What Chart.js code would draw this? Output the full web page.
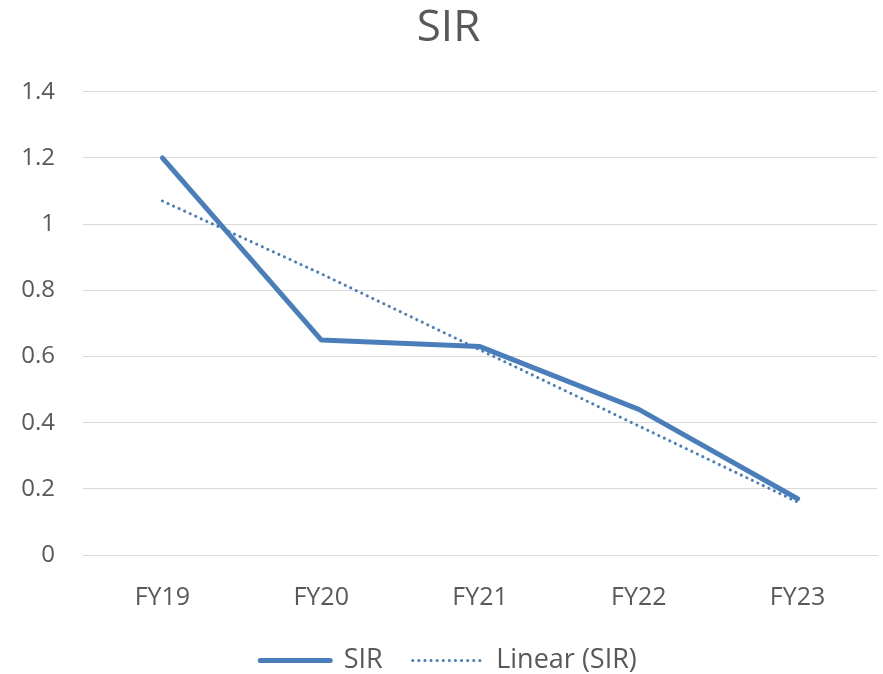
<!DOCTYPE html>
<html>
<head>
<meta charset="utf-8">
<script src="https://cdn.jsdelivr.net/npm/chart.js@4"></script>
<style>
  body { margin: 0; background: #fff; }
  #wrap { width: 883px; height: 674px; }
</style>
</head>
<body>
<div id="wrap"><canvas id="sirChart"></canvas></div>
<script>
const categories = ['FY19', 'FY20', 'FY21', 'FY22', 'FY23'];
const sirValues = [1.2, 0.65, 0.63, 0.44, 0.17];
// trendline
const linearValues = [1.07, 0.85, 0.62, 0.39, 0.16];
const yTicks = [0, 0.2, 0.4, 0.6, 0.8, 1, 1.2, 1.4];

const blue = '#4a7ebb';
const grey = '#595959';
const font = "'Open Sans', Lato, sans-serif";

const ctx = document.getElementById('sirChart').getContext('2d');
new Chart(ctx, {
  type: 'line',
  data: {
    labels: categories,
    datasets: [
      {
        label: 'SIR',
        data: sirValues,
        borderColor: blue,
        borderWidth: 5,
        pointRadius: 0,
        tension: 0,
        borderJoinStyle: 'round',
        borderCapStyle: 'round',
      },
      {
        label: 'Linear (SIR)',
        data: linearValues,
        borderColor: blue,
        borderWidth: 3,
        borderDash: [0.1, 6],
        borderCapStyle: 'round',
        pointRadius: 0,
        tension: 0,
      },
    ],
  },
  options: {
    responsive: true,
    maintainAspectRatio: false,
    animation: false,
    layout: {
      // negative bottom lets the legend sit low while keeping wide item spacing
      padding: { left: 20, right: 6, top: 0, bottom: -10 },
    },
    plugins: {
      title: {
        display: true,
        text: 'SIR',
        color: grey,
        font: { family: font, size: 44, weight: 'normal' },
        padding: { top: 2, bottom: 37 },
      },
      legend: {
        position: 'bottom',
        labels: {
          color: grey,
          font: { family: font, size: 27 },
          usePointStyle: true,
          pointStyleWidth: 70,
          boxHeight: 10,
          padding: 30,
          generateLabels: (chart) => chart.data.datasets.map((ds, i) => ({
            text: ds.label,
            fillStyle: blue,
            strokeStyle: blue,
            fontColor: grey,
            lineWidth: i === 0 ? 5 : 3,
            lineDash: i === 0 ? [] : [0.1, 6],
            lineCap: 'round',
            pointStyle: 'line',
            datasetIndex: i,
          })),
        },
      },
      tooltip: { enabled: false },
    },
    scales: {
      x: {
        offset: true,
        grid: { display: false, drawTicks: false },
        border: { color: '#d9d9d9', width: 1 },
        afterFit: (scale) => {
          scale.height = 62;
        },
        ticks: {
          color: grey,
          font: { family: font, size: 25 },
          padding: 28,
        },
      },
      y: {
        min: 0,
        max: 1.4,
        afterBuildTicks: (scale) => {
          scale.ticks = yTicks.map((v) => ({ value: v }));
        },
        afterFit: (scale) => {
          scale.width = 63;
        },
        grid: { color: '#d9d9d9', lineWidth: 1, drawTicks: false },
        border: { display: false },
        ticks: {
          color: grey,
          font: { family: font, size: 24 },
          padding: 28,
          callback: (v) => String(Math.round(v * 10) / 10),
        },
      },
    },
  },
});
</script>
</body>
</html>
